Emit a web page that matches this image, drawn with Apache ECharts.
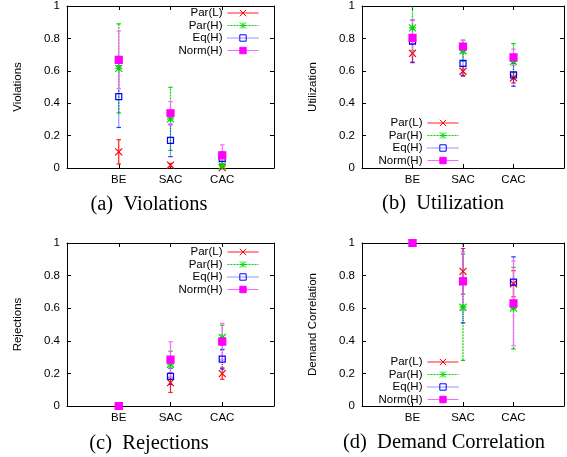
<!DOCTYPE html>
<html>
<head>
<meta charset="utf-8">
<script src="https://cdn.jsdelivr.net/npm/echarts@6/dist/echarts.min.js"></script>
<style>
html,body{margin:0;padding:0;background:#fff;}
#chart{width:567px;height:457px;}
</style>
</head>
<body>
<div id="chart"></div>
<script>
// ---------- data ----------
const categories = ['BE', 'SAC', 'CAC'];
const seriesNames = ['Par(L)', 'Par(H)', 'Eq(H)', 'Norm(H)'];
const panelTitles = ['(a)  Violations', '(b)  Utilization', '(c)  Rejections', '(d)  Demand Correlation'];
const axisNames = ['Violations', 'Utilization', 'Rejections', 'Demand Correlation'];

// rows: Par(L), Par(H), Eq(H), Norm(H); columns: BE, SAC, CAC
const violationsMean = [
  [0.100, 0.018, 0.002],
  [0.615, 0.303, 0.013],
  [0.440, 0.170, 0.060],
  [0.668, 0.338, 0.078]
];
const violationsErr = [
  [0.075, 0.010, 0.004],
  [0.275, 0.195, 0.015],
  [0.190, 0.100, 0.040],
  [0.178, 0.072, 0.065]
];
const utilizationMean = [
  [0.708, 0.597, 0.557],
  [0.865, 0.724, 0.658],
  [0.783, 0.646, 0.575],
  [0.803, 0.750, 0.683]
];
const utilizationErr = [
  [0.058, 0.030, 0.032],
  [0.140, 0.065, 0.110],
  [0.130, 0.075, 0.070],
  [0.110, 0.040, 0.050]
];
const rejectionsMean = [
  [0.000, 0.143, 0.199],
  [0.000, 0.256, 0.420],
  [0.000, 0.182, 0.287],
  [0.000, 0.284, 0.395]
];
const rejectionsErr = [
  [0.000, 0.060, 0.035],
  [0.000, 0.080, 0.075],
  [0.000, 0.050, 0.060],
  [0.000, 0.110, 0.112]
];
const correlationMean = [
  [1.000, 0.826, 0.750],
  [1.000, 0.606, 0.600],
  [1.000, 0.765, 0.760],
  [1.000, 0.765, 0.630]
];
const correlationErr = [
  [0.000, 0.140, 0.080],
  [0.000, 0.326, 0.250],
  [0.000, 0.255, 0.155],
  [0.000, 0.180, 0.260]
];

const panelMeans = [violationsMean, utilizationMean, rejectionsMean, correlationMean];
const panelErrs = [violationsErr, utilizationErr, rejectionsErr, correlationErr];

// ---------- styles ----------
const SANS = "'Liberation Sans', Arial, Helvetica, sans-serif";
const SERIF = "'Liberation Serif', 'Times New Roman', serif";
const colors = ['#ff0000', '#00d800', '#0000ff', '#ff00ff'];
const barColors = ['#ff2020', '#00d800', '#2030ff', '#ff66ff'];
const barDash = [null, [2, 1], [1, 1], null];
const symbols = [
  'path://M0,0L10,10M10,0L0,10',
  'path://M0,0L10,10M10,0L0,10M5,0L5,10M0,5L10,5',
  'rect',
  'rect'
];
const symbolSizes = [7, 7, 6, 7];
const symbolFill = ['#ff0000', '#00d800', 'rgba(0,0,0,0)', '#ff00ff'];

const grids = [
  {left: 67, top: 5, width: 207, height: 163},
  {left: 362, top: 5, width: 207, height: 163},
  {left: 67, top: 243, width: 207, height: 163},
  {left: 362, top: 243, width: 207, height: 163}
];
const legendPos = [
  {right: 308, top: 7},
  {right: 108, top: 117},
  {right: 308, top: 246},
  {right: 108, top: 356}
];
const titlePos = [
  {left: 149, top: 194},
  {left: 443, top: 193},
  {left: 149, top: 433},
  {left: 444, top: 432}
];

const xAxes = [], yAxes = [], series = [], legends = [], titles = [];
const axisLineStyle = {lineStyle: {color: '#000', width: 1}};
const tickStyle = {show: true, inside: true, length: 4, lineStyle: {color: '#000', width: 1}};

grids.forEach((g, p) => {
  xAxes.push({
    type: 'value', gridIndex: p, min: 0, max: 4, interval: 1, position: 'bottom',
    axisLine: Object.assign({show: true, onZero: false}, axisLineStyle),
    axisTick: tickStyle, splitLine: {show: false},
    axisLabel: {
      show: true, margin: 6, color: '#000', fontFamily: SANS, fontSize: 11.5,
      formatter: v => categories[v - 1] || ''
    }
  });
  xAxes.push({
    type: 'value', gridIndex: p, min: 0, max: 4, interval: 1, position: 'top',
    axisLine: Object.assign({show: true, onZero: false}, axisLineStyle),
    axisTick: tickStyle, splitLine: {show: false}, axisLabel: {show: false}
  });
  yAxes.push({
    type: 'value', gridIndex: p, min: 0, max: 1, interval: 0.2, position: 'left',
    name: axisNames[p], nameLocation: 'middle', nameGap: 43,
    nameTextStyle: {color: '#000', fontFamily: SANS, fontSize: 11.5},
    axisLine: Object.assign({show: true, onZero: false}, axisLineStyle),
    axisTick: tickStyle, splitLine: {show: false},
    axisLabel: {show: true, margin: 7, color: '#000', fontFamily: SANS, fontSize: 11.5}
  });
  yAxes.push({
    type: 'value', gridIndex: p, min: 0, max: 1, interval: 0.2, position: 'right',
    axisLine: Object.assign({show: true, onZero: false}, axisLineStyle),
    axisTick: tickStyle, splitLine: {show: false}, axisLabel: {show: false}
  });

  const means = panelMeans[p], errs = panelErrs[p];
  seriesNames.forEach((name, s) => {
    const col = barColors[s], dash = barDash[s];
    series.push({
      type: 'custom',
      name: name + ' error',
      xAxisIndex: 2 * p, yAxisIndex: 2 * p,
      z: 2, silent: true, animation: false,
      color: col,
      itemStyle: {color: col, borderColor: col},
      encode: {x: 0, y: 1},
      data: categories.map((c, i) => [i + 1, means[s][i], errs[s][i]]),
      renderItem: (params, api) => {
        const x = api.value(0), m = api.value(1), e = api.value(2);
        if (!(e > 0)) return null;
        const lo = m - e, hi = m + e;
        const a = api.coord([x, Math.max(lo, 0)]);
        const b = api.coord([x, Math.min(hi, 1)]);
        const cap = 2.2;
        const vStyle = {stroke: col, fill: null, lineWidth: 1.2};
        if (dash) vStyle.lineDash = dash;
        const children = [{
          type: 'line',
          shape: {x1: a[0], y1: a[1], x2: b[0], y2: b[1]},
          style: vStyle
        }];
        if (lo >= 0) children.push({
          type: 'line', shape: {x1: a[0] - cap, y1: a[1], x2: a[0] + cap, y2: a[1]},
          style: {stroke: col, fill: null, lineWidth: 1.2}
        });
        if (hi <= 1) children.push({
          type: 'line', shape: {x1: b[0] - cap, y1: b[1], x2: b[0] + cap, y2: b[1]},
          style: {stroke: col, fill: null, lineWidth: 1.2}
        });
        return {type: 'group', children: children};
      }
    });
  });
  seriesNames.forEach((name, s) => {
    series.push({
      type: 'line',
      name: name,
      xAxisIndex: 2 * p, yAxisIndex: 2 * p,
      z: 3, silent: true, animation: false, clip: false,
      symbol: symbols[s], symbolSize: symbolSizes[s], showAllSymbol: true,
      color: colors[s],
      lineStyle: {width: 0, color: colors[s]},
      itemStyle: {color: symbolFill[s], borderColor: colors[s], borderWidth: 1.2, opacity: 1},
      data: categories.map((c, i) => [i + 1, means[s][i]])
    });
  });

  legends.push(Object.assign({
    orient: 'vertical', align: 'right', padding: 0,
    itemWidth: 31, itemHeight: 8, itemGap: 0.5, selectedMode: false,
    textStyle: {color: '#000', fontFamily: SANS, fontSize: 11.5},
    data: seriesNames.map((name, s) => ({
      name: name,
      itemStyle: {color: symbolFill[s], borderColor: colors[s], borderWidth: 1, opacity: 1},
      lineStyle: {color: barColors[s], width: 1, type: barDash[s] || 'solid', opacity: 1}
    }))
  }, legendPos[p]));

  titles.push(Object.assign({
    text: panelTitles[p], textAlign: 'center', padding: 0,
    textStyle: {color: '#000', fontFamily: SERIF, fontSize: 20.5, fontWeight: 'normal'}
  }, titlePos[p]));
});

const chart = echarts.init(document.getElementById('chart'), null, {renderer: 'canvas'});
chart.setOption({
  backgroundColor: '#fff',
  animation: false,
  title: titles,
  legend: legends,
  grid: grids,
  xAxis: xAxes,
  yAxis: yAxes,
  series: series
});
</script>
</body>
</html>
